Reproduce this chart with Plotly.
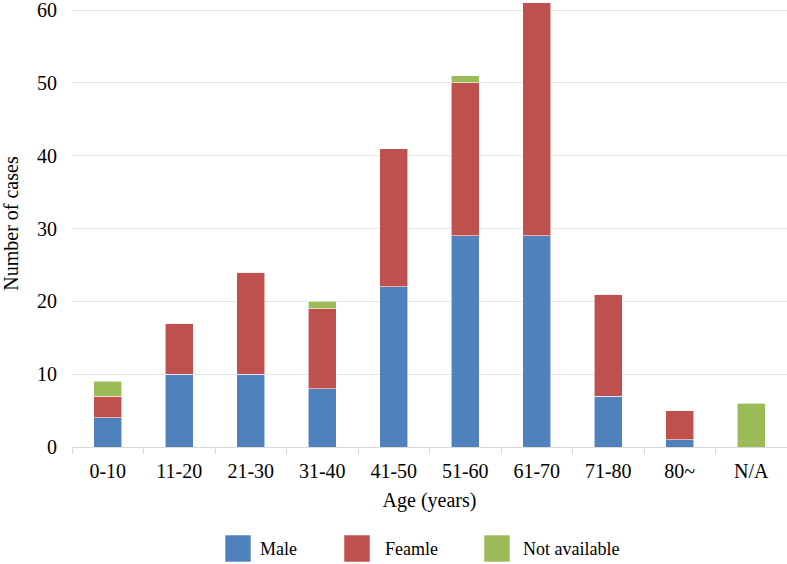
import plotly.graph_objects as go

categories = ["0-10", "11-20", "21-30", "31-40", "41-50", "51-60", "61-70", "71-80", "80~", "N/A"]
male = [4, 10, 10, 8, 22, 29, 29, 7, 1, 0]
female = [3, 7, 14, 11, 19, 21, 32, 14, 4, 0]
not_available = [2, 0, 0, 1, 0, 1, 0, 0, 0, 6]
series_names = ["Male", "Feamle", "Not available"]
series_colors = ["#4f81bd", "#c0504d", "#9bbb59"]
y_ticks = [0, 10, 20, 30, 40, 50, 60]

W, H = 787, 564
ML, MR, MT, MB = 72, 0, 0, 117
FONT = "Liberation Serif, Times New Roman, serif"

fig = go.Figure()
for name, vals, col in zip(series_names, [male, female, not_available], series_colors):
    fig.add_trace(go.Bar(
        x=categories, y=vals, name=name,
        marker=dict(color=col, line=dict(color="rgba(255,255,255,0.7)", width=0.8)),
        width=0.39, showlegend=False,
    ))

fig.update_layout(
    template="none",
    width=W, height=H,
    margin=dict(l=ML, r=MR, t=MT, b=MB, autoexpand=False),
    barmode="stack",
    plot_bgcolor="white", paper_bgcolor="white",
    font=dict(family=FONT, size=20, color="#000000"),
)
fig.update_xaxes(
    type="category", automargin=False,
    showline=True, linecolor="#d9d9d9", linewidth=1,
    ticks="outside", ticklen=6, tickcolor="#d9d9d9", tickson="boundaries",
    showgrid=False, zeroline=False,
    tickfont=dict(size=20),
    ticklabelstandoff=6,
    title=dict(text="Age (years)", font=dict(size=20), standoff=11),
)
fig.update_yaxes(
    range=[0, 61.4], automargin=False,
    tickvals=y_ticks,
    showgrid=True, gridcolor="#e3e3e3", gridwidth=1,
    zeroline=False, showline=False, ticks="",
    ticklabelstandoff=14, ticklabeloverflow="allow",
    tickfont=dict(size=20),
    title=dict(text="Number of cases", font=dict(size=20), standoff=28),
)

# custom legend (large swatches like the reference), positioned in pixels
pw, ph = W - ML - MR, H - MT - MB
def px_x(x):
    return (x - ML) / pw
def px_y(y):
    return (H - MB - y) / ph

swatch_x = [225, 344, 484]
text_x = [260, 385, 523]
for name, col, sx, tx in zip(series_names, series_colors, swatch_x, text_x):
    fig.add_shape(type="rect", xref="paper", yref="paper",
                  x0=px_x(sx), x1=px_x(sx + 26), y0=px_y(562), y1=px_y(535),
                  fillcolor=col, line=dict(color="rgba(255,255,255,0.7)", width=0.8))
    fig.add_annotation(xref="paper", yref="paper", x=px_x(tx), y=px_y(548.5),
                       text=name, showarrow=False, xanchor="left", yanchor="middle",
                       xshift=-2,
                       font=dict(family=FONT, size=18, color="#000000"))

# remove the browser's default 8px body margin so the figure fills the window
fig.write_html("out.html",
               config={"displayModeBar": False},
               post_script="document.body.style.margin='0';document.body.style.padding='0';")
